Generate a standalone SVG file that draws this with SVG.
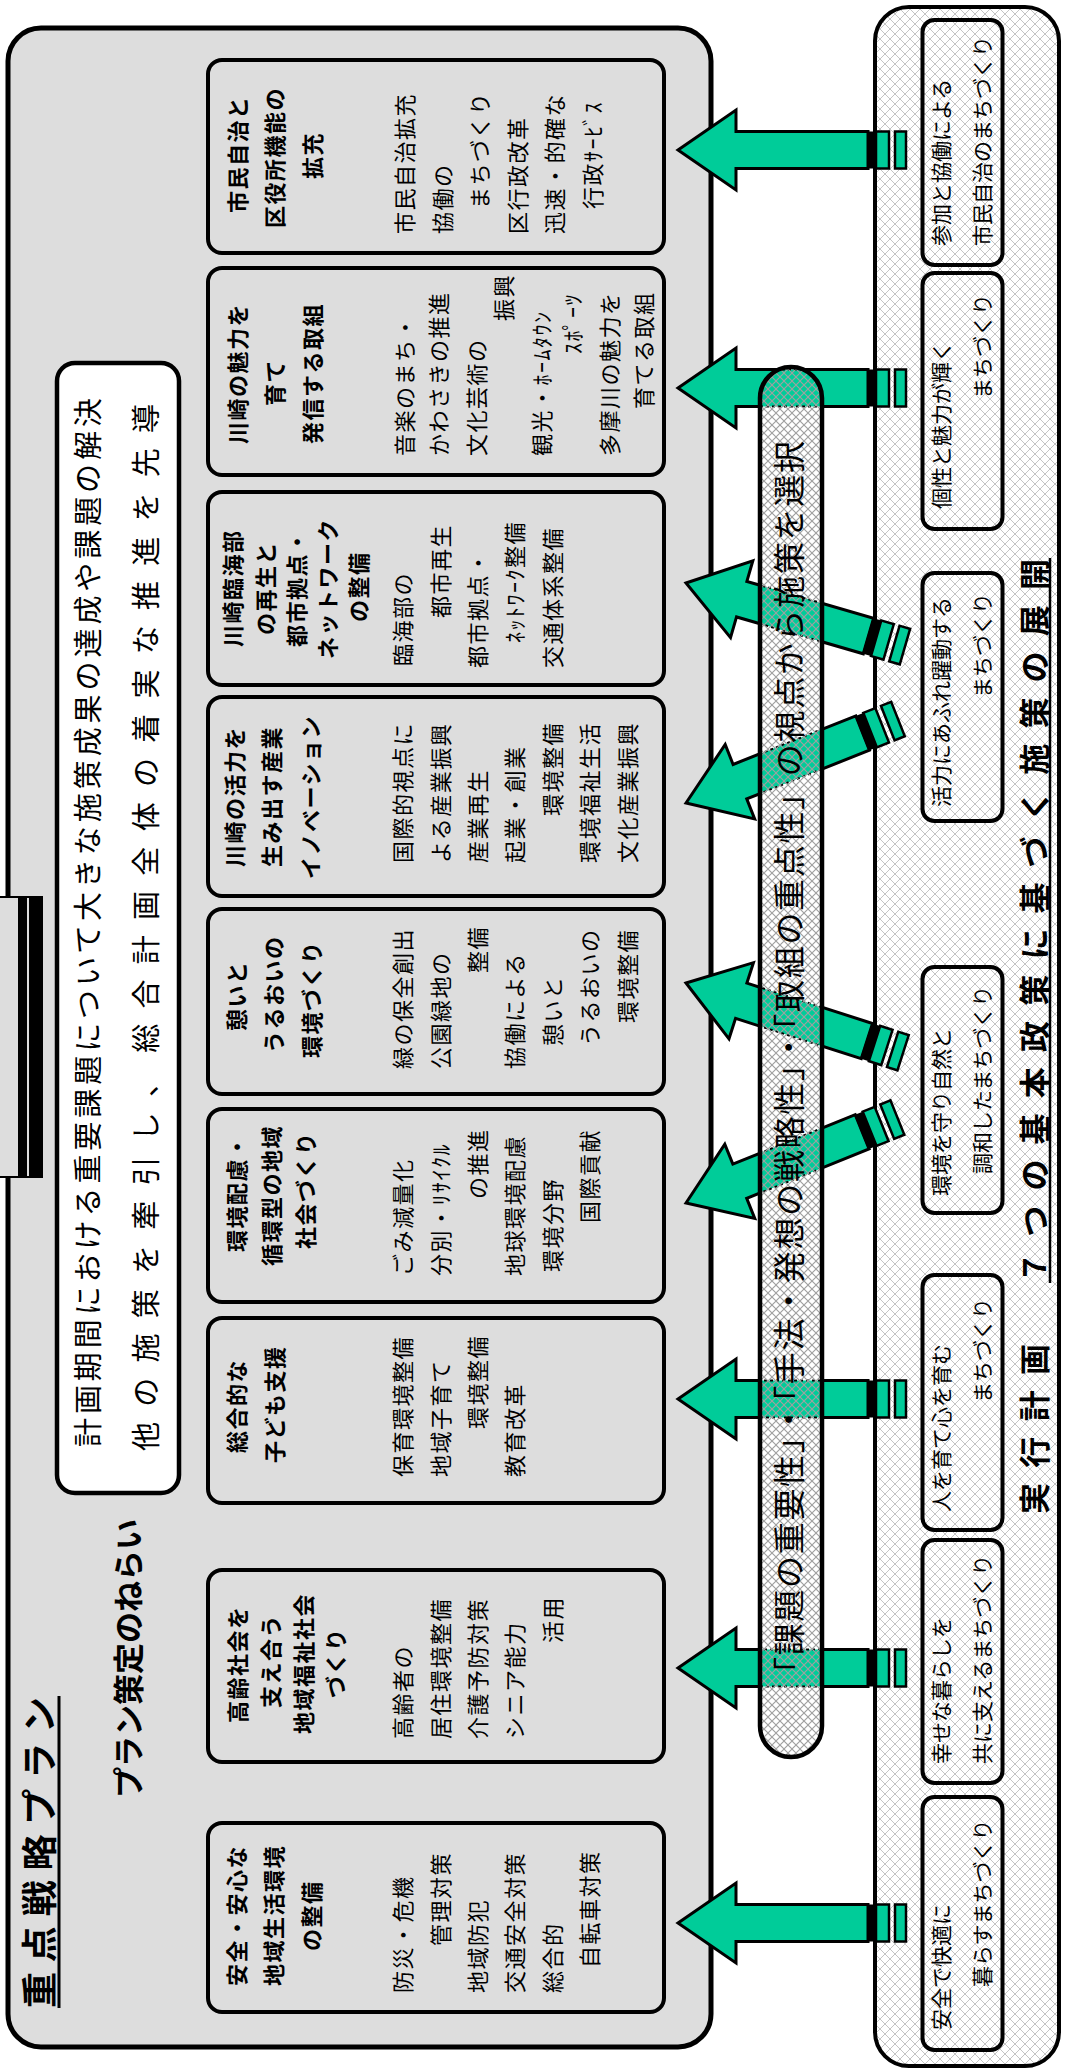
<svg xmlns="http://www.w3.org/2000/svg" xmlns:xlink="http://www.w3.org/1999/xlink" width="1070" height="2069" viewBox="0 0 1070 2069">
<defs>
<style>
text { font-family: "Noto Sans CJK JP", "Noto Sans CJK SC", sans-serif; fill: #000; }
.outer { fill: #dddddd; stroke: #000; stroke-width: 5; }
.plan { fill: #dddddd; stroke: #000; stroke-width: 4; }
.t { font-size: 22px; font-weight: bold; letter-spacing: 1.5px; }
.i { font-size: 22px; letter-spacing: 1.5px; }
.s { font-size: 21px; }
.sbox { fill: none; stroke: #000; stroke-width: 4; }
.big { font-size: 31px; font-weight: bold; }
</style>
<pattern id="hatchPanel" width="10" height="10" patternUnits="userSpaceOnUse">
<rect width="10" height="10" fill="#fff"/>
<path d="M0,0 L10,10 M10,0 L0,10" stroke="#c4c4c4" stroke-width="1"/>
</pattern>
<pattern id="hatchBar" width="8" height="8" patternUnits="userSpaceOnUse">
<path d="M0,0 L8,8 M8,0 L0,8" stroke="#a0a0a0" stroke-width="1.2"/>
</pattern>
<path id="arrBody" d="M0,0 L40,58 L18.5,58 L18.5,190 L-18.5,190 L-18.5,58 L-40,58 Z"/>
<g id="arrow">
<path d="M0,0 L40,58 L18.5,58 L18.5,190 L-18.5,190 L-18.5,58 L-40,58 Z" fill="#00cc99" stroke="#000" stroke-width="3"/>
<rect x="-18.5" y="189" width="37" height="9" fill="#000"/>
<rect x="-18.5" y="198" width="37" height="13" fill="#00cc99" stroke="#000" stroke-width="2.5"/>
<rect x="-18.5" y="217" width="37" height="11" fill="#00cc99" stroke="#000" stroke-width="2.5"/>
</g>
<clipPath id="barClip"><rect x="312" y="760" width="1390" height="62" rx="31"/></clipPath>
</defs>
<rect width="1070" height="2069" fill="#fff"/>
<g transform="translate(0,2069) rotate(-90)">

<g id="plan-frame">
<rect class="outer" x="22" y="8" width="2019" height="703" rx="33"/>
<rect x="892" y="0" width="280" height="18" fill="#dddddd"/>
<rect x="892" y="18" width="280" height="9" fill="#000"/>
<rect x="892" y="29" width="280" height="14" fill="#000"/>
<path d="M892,0 V43 M1172,0 V43" stroke="#000" stroke-width="2"/>
<text x="61" y="53" font-size="36" font-weight="bold" textLength="311" lengthAdjust="spacing">重点戦略プラン</text>
<line x1="61" y1="59" x2="373" y2="59" stroke="#000" stroke-width="3"/>
<text x="271" y="140" font-size="31" font-weight="bold" textLength="279" lengthAdjust="spacing">プラン策定のねらい</text>
</g>

<g id="aim">
<rect x="576" y="57" width="1130" height="122" rx="18" fill="#fff" stroke="#000" stroke-width="4.5"/>
<text x="622" y="99" font-size="29" textLength="1049" lengthAdjust="spacing">計画期間における重要課題について大きな施策成果の達成や課題の解決</text>
<text x="618" y="157" font-size="29" textLength="1047" lengthAdjust="spacing">他の施策を牽引し、総合計画全体の着実な推進を先導</text>
</g>

<g id="plan-1">
<rect class="plan" x="57" y="208" width="189" height="456" rx="14"/>
<text class="t" x="83" y="245">安全・安心な</text>
<text class="t" x="83" y="282">地域生活環境</text>
<text class="t" x="118" y="320">の整備</text>
<text class="i" x="76" y="411">防災・危機</text>
<text class="i" x="123" y="449">管理対策</text>
<text class="i" x="76" y="486">地域防犯</text>
<text class="i" x="76" y="523">交通安全対策</text>
<text class="i" x="76" y="561">総合的</text>
<text class="i" x="101" y="598">自転車対策</text>
</g>

<g id="plan-2">
<rect class="plan" x="307" y="208" width="192" height="456" rx="14"/>
<text class="t" x="346" y="246">高齢社会を</text>
<text class="t" x="361" y="279">支え合う</text>
<text class="t" x="335" y="312">地域福祉社会</text>
<text class="t" x="371" y="344">づくり</text>
<text class="i" x="330" y="411">高齢者の</text>
<text class="i" x="330" y="449">居住環境整備</text>
<text class="i" x="330" y="486">介護予防対策</text>
<text class="i" x="330" y="523">シニア能力</text>
<text class="i" x="426" y="561">活用</text>
</g>

<g id="plan-3">
<rect class="plan" x="566" y="208" width="185" height="456" rx="14"/>
<text class="t" x="616" y="245">総合的な</text>
<text class="t" x="606" y="283">子ども支援</text>
<text class="i" x="592" y="411">保育環境整備</text>
<text class="i" x="592" y="449">地域子育て</text>
<text class="i" x="640" y="486">環境整備</text>
<text class="i" x="592" y="523">教育改革</text>
</g>

<g id="plan-4">
<rect class="plan" x="767" y="208" width="193" height="456" rx="14"/>
<text class="t" x="817" y="245">環境配慮・</text>
<text class="t" x="803" y="280">循環型の地域</text>
<text class="t" x="820" y="314">社会づくり</text>
<text class="i" x="793" y="411">ごみ減量化</text>
<text class="i" x="793" y="449">分別・ﾘｻｲｸﾙ</text>
<text class="i" x="870" y="486">の推進</text>
<text class="i" x="793" y="523">地球環境配慮</text>
<text class="i" x="797" y="561">環境分野</text>
<text class="i" x="846" y="598">国際貢献</text>
</g>

<g id="plan-5">
<rect class="plan" x="975" y="208" width="185" height="456" rx="14"/>
<text class="t" x="1038" y="245">憩いと</text>
<text class="t" x="1016" y="282">うるおいの</text>
<text class="t" x="1011" y="320">環境づくり</text>
<text class="i" x="1000" y="411">緑の保全創出</text>
<text class="i" x="1000" y="449">公園緑地の</text>
<text class="i" x="1096" y="486">整備</text>
<text class="i" x="1000" y="523">協働による</text>
<text class="i" x="1023" y="561">憩いと</text>
<text class="i" x="1023" y="598">うるおいの</text>
<text class="i" x="1046" y="636">環境整備</text>
</g>

<g id="plan-6">
<rect class="plan" x="1173" y="208" width="199" height="456" rx="14"/>
<text class="t" x="1202" y="243">川崎の活力を</text>
<text class="t" x="1202" y="280">生み出す産業</text>
<text class="t" x="1190" y="319">イノベーション</text>
<text class="i" x="1206" y="411">国際的視点に</text>
<text class="i" x="1206" y="449">よる産業振興</text>
<text class="i" x="1206" y="486">産業再生</text>
<text class="i" x="1206" y="523">起業・創業</text>
<text class="i" x="1253" y="561">環境整備</text>
<text class="i" x="1206" y="598">環境福祉生活</text>
<text class="i" x="1206" y="636">文化産業振興</text>
</g>

<g id="plan-7">
<rect class="plan" x="1384" y="208" width="193" height="456" rx="14"/>
<text class="t" x="1422" y="241">川崎臨海部</text>
<text class="t" x="1434" y="274">の再生と</text>
<text class="t" x="1422" y="305">都市拠点・</text>
<text class="t" x="1410" y="336">ネットワーク</text>
<text class="t" x="1447" y="367">の整備</text>
<text class="i" x="1403" y="411">臨海部の</text>
<text class="i" x="1451" y="449">都市再生</text>
<text class="i" x="1401" y="486">都市拠点・</text>
<text class="i" x="1426" y="523">ﾈｯﾄﾜｰｸ整備</text>
<text class="i" x="1401" y="561">交通体系整備</text>
</g>

<g id="plan-8">
<rect class="plan" x="1594" y="208" width="207" height="456" rx="14"/>
<text class="t" x="1625" y="246">川崎の魅力を</text>
<text class="t" x="1663" y="283">育て</text>
<text class="t" x="1625" y="321">発信する取組</text>
<text class="i" x="1613" y="413">音楽のまち・</text>
<text class="i" x="1613" y="447">かわさきの推進</text>
<text class="i" x="1613" y="485">文化芸術の</text>
<text class="i" x="1748" y="512">振興</text>
<text class="i" x="1613" y="550">観光・ﾎｰﾑﾀｳﾝ</text>
<text class="i" x="1715" y="581">ｽﾎﾟｰﾂ</text>
<text class="i" x="1613" y="618">多摩川の魅力を</text>
<text class="i" x="1660" y="652">育てる取組</text>
</g>

<g id="plan-9">
<rect class="plan" x="1816" y="208" width="193" height="456" rx="14"/>
<text class="t" x="1856" y="246">市民自治と</text>
<text class="t" x="1841" y="283">区役所機能の</text>
<text class="t" x="1890" y="321">拡充</text>
<text class="i" x="1835" y="413">市民自治拡充</text>
<text class="i" x="1835" y="451">協働の</text>
<text class="i" x="1860" y="488">まちづくり</text>
<text class="i" x="1835" y="526">区行政改革</text>
<text class="i" x="1835" y="563">迅速・的確な</text>
<text class="i" x="1860" y="601">行政ｻｰﾋﾞｽ</text>
</g>

<g id="policy-panel">
<rect x="3" y="875" width="2059" height="184" rx="34" fill="url(#hatchPanel)" stroke="#000" stroke-width="4"/>
<text class="big" x="555" y="1046" textLength="170" lengthAdjust="spacing">実行計画</text>
<text class="big" x="786" y="1046" textLength="724" lengthAdjust="spacing">７つの基本政策に基づく施策の展開</text>
<line x1="786" y1="1050" x2="1511" y2="1050" stroke="#000" stroke-width="2.5"/>
</g>

<g id="policy-1">
<rect class="sbox" x="1804" y="922.5" width="245" height="80" rx="12"/>
<text class="s" x="1823" y="949">参加と協働による</text>
<text class="s" x="1823" y="990">市民自治のまちづくり</text>
</g>
<g id="policy-2">
<rect class="sbox" x="1540" y="922.5" width="256" height="80" rx="12"/>
<text class="s" x="1560" y="949">個性と魅力が輝く</text>
<text class="s" x="1670" y="990">まちづくり</text>
</g>
<g id="policy-3">
<rect class="sbox" x="1248" y="922.5" width="248" height="80" rx="12"/>
<text class="s" x="1262" y="949">活力にあふれ躍動する</text>
<text class="s" x="1371" y="990">まちづくり</text>
</g>
<g id="policy-4">
<rect class="sbox" x="856" y="922.5" width="246" height="80" rx="12"/>
<text class="s" x="873" y="949">環境を守り自然と</text>
<text class="s" x="895" y="990">調和したまちづくり</text>
</g>
<g id="policy-5">
<rect class="sbox" x="539" y="922.5" width="255" height="80" rx="12"/>
<text class="s" x="557" y="949">人を育て心を育む</text>
<text class="s" x="666" y="990">まちづくり</text>
</g>
<g id="policy-6">
<rect class="sbox" x="286" y="922.5" width="243" height="80" rx="12"/>
<text class="s" x="305" y="949">幸せな暮らしを</text>
<text class="s" x="305" y="990">共に支えるまちづくり</text>
</g>
<g id="policy-7">
<rect class="sbox" x="19" y="922.5" width="253" height="80" rx="12"/>
<text class="s" x="39" y="949">安全で快適に</text>
<text class="s" x="82" y="990">暮らすまちづくり</text>
</g>

<g id="connectors">
<use xlink:href="#arrow" transform="translate(146,678)"/>
<use xlink:href="#arrow" transform="translate(401,678)"/>
<use xlink:href="#arrow" transform="translate(670,678)"/>
<use xlink:href="#arrow" transform="translate(866,686) rotate(-22)"/>
<use xlink:href="#arrow" transform="translate(1086,686) rotate(17.8)"/>
<use xlink:href="#arrow" transform="translate(1266,686) rotate(-21.6)"/>
<use xlink:href="#arrow" transform="translate(1486,686) rotate(16.2)"/>
<use xlink:href="#arrow" transform="translate(1681,678)"/>
<use xlink:href="#arrow" transform="translate(1919,678)"/>
</g>

<g id="selection-bar">
<rect x="312" y="760" width="1390" height="62" rx="31" fill="#fff"/>
<g clip-path="url(#barClip)" fill="#00cc99" stroke="#000" stroke-width="2" stroke-dasharray="3 3">
<use xlink:href="#arrBody" transform="translate(401,678)"/>
<use xlink:href="#arrBody" transform="translate(670,678)"/>
<use xlink:href="#arrBody" transform="translate(866,686) rotate(-22)"/>
<use xlink:href="#arrBody" transform="translate(1086,686) rotate(17.8)"/>
<use xlink:href="#arrBody" transform="translate(1266,686) rotate(-21.6)"/>
<use xlink:href="#arrBody" transform="translate(1486,686) rotate(16.2)"/>
<use xlink:href="#arrBody" transform="translate(1681,678)"/>
</g>
<rect x="312" y="760" width="1390" height="62" rx="31" fill="url(#hatchBar)" stroke="#000" stroke-width="4.5"/>
<text x="380" y="801" font-size="32" textLength="1248" lengthAdjust="spacing">「課題の重要性」・「手法・発想の戦略性」・「取組の重点性」の視点から施策を選択</text>
</g>

</g>
</svg>
